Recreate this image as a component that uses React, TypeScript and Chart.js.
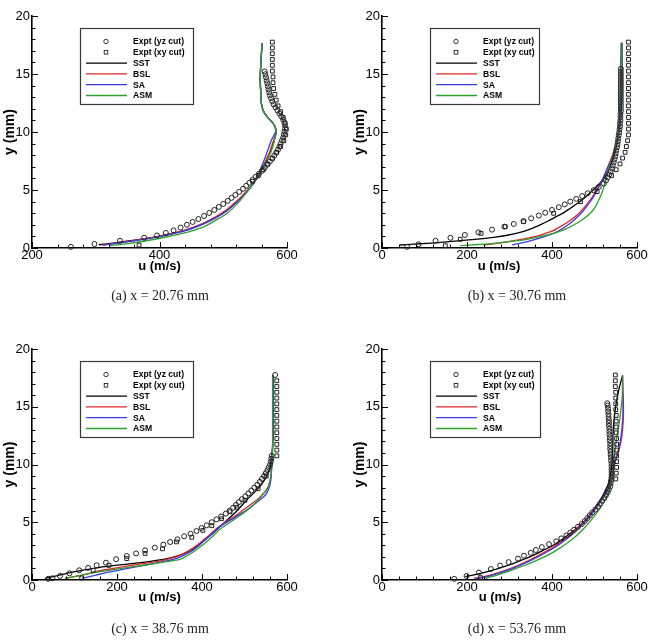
import { useEffect, useRef } from 'react';
import { Chart, registerables } from 'chart.js';

Chart.register(...registerables);

// Each point is [u (m/s), y (mm)].
type Pt = [number, number];

// ---------- (a) x = 20.76 mm ----------
const yzCutA: Pt[] = [
  [261, 0.1], [298, 0.35], [338, 0.62], [376, 0.88], [396, 1.08], [410, 1.3], [422, 1.52], [433, 1.76],
  [443, 2.0], [452, 2.25], [461, 2.5], [470, 2.76], [478, 3.02], [486, 3.28], [493, 3.54], [500, 3.8],
  [507, 4.06], [513, 4.32], [519, 4.58], [525, 4.84], [531, 5.1], [536, 5.36], [541, 5.62], [546, 5.88],
  [551, 6.14], [556, 6.4], [561, 6.66], [565, 6.92], [569, 7.18], [573, 7.44], [577, 7.7], [580, 7.96],
  [583, 8.22], [586, 8.48], [588, 8.74], [590, 9.0], [592, 9.26], [594, 9.52], [595, 9.78], [596, 10.04],
  [597, 10.3], [597, 10.56], [596, 10.82], [594, 11.08], [591, 11.34], [588, 11.6], [585, 11.86], [582, 12.12],
  [579, 12.38], [577, 12.64], [575, 12.9], [573, 13.16], [572, 13.42], [571, 13.68], [570, 13.94], [569, 14.2],
  [568, 14.46], [567, 14.72], [566, 14.98], [565, 15.22],
];
const xyCutA: Pt[] = [
  [577, 17.75], [577, 17.25], [577, 16.75], [577, 16.25], [577, 15.75], [577, 15.25], [578, 14.75], [578, 14.25],
  [579, 13.75], [581, 13.25], [583, 12.75], [586, 12.25], [590, 11.75], [594, 11.25], [597, 10.75], [599, 10.25],
  [598, 9.75], [595, 9.25], [590, 8.75], [584, 8.25], [577, 7.75], [570, 7.25], [563, 6.75], [555, 6.25],
  [546, 5.75], [368, 0.25],
];
const sstA: Pt[] = [
  [305, 0.28], [330, 0.45], [355, 0.63], [380, 0.83], [400, 1.03], [420, 1.25], [441, 1.55], [457, 1.85],
  [472, 2.2], [488, 2.65], [504, 3.2], [516, 3.75], [527, 4.3], [538, 4.95], [548, 5.6], [556, 6.3],
  [563, 7.0], [569, 7.7], [574, 8.3], [580, 9.3], [583, 10.0], [581, 10.5], [576, 10.9], [569, 11.3],
  [563, 11.8], [560, 12.4], [559, 13.2], [558, 14.5], [559, 16.0], [561, 17.65],
];
const bslA: Pt[] = [
  [310, 0.25], [333, 0.42], [357, 0.62], [380, 0.82], [400, 1.02], [420, 1.25], [440, 1.55], [456, 1.85],
  [471, 2.2], [487, 2.65], [503, 3.2], [515, 3.75], [526, 4.3], [537, 4.95], [547, 5.6], [555, 6.3],
  [562, 7.0], [568, 7.7], [573, 8.3], [579, 9.3], [583, 10.0], [581, 10.5], [576, 10.9], [569, 11.3],
  [563, 11.8], [560, 12.4], [559, 13.2], [558, 14.5], [559, 16.0], [561, 17.65],
];
const saA: Pt[] = [
  [312, 0.25], [335, 0.42], [358, 0.6], [382, 0.8], [402, 1.0], [422, 1.23], [442, 1.52], [458, 1.82],
  [473, 2.17], [489, 2.62], [505, 3.17], [517, 3.72], [528, 4.28], [539, 4.95], [548, 5.65], [555, 6.4],
  [561, 7.15], [566, 7.85], [570, 8.45], [576, 9.35], [582, 10.0], [581, 10.5], [576, 10.9], [569, 11.3],
  [563, 11.8], [560, 12.4], [559, 13.2], [558, 14.5], [559, 16.0], [561, 17.65],
];
const asmA: Pt[] = [
  [322, 0.2], [350, 0.38], [386, 0.69], [412, 0.97], [436, 1.26], [455, 1.55], [470, 1.84], [490, 2.45],
  [506, 3.0], [522, 3.8], [534, 4.6], [545, 5.4], [554, 6.15], [562, 6.9], [569, 7.6], [575, 8.3],
  [579, 9.0], [583, 10.0], [581, 10.5], [576, 10.9], [569, 11.3], [563, 11.8], [560, 12.4], [559, 13.2],
  [558, 14.5], [559, 16.0], [561, 17.65],
];

// ---------- (b) x = 30.76 mm ----------
const yzCutB: Pt[] = [
  [59, 0.1], [86, 0.32], [126, 0.62], [161, 0.88], [195, 1.12], [227, 1.35], [259, 1.58], [288, 1.84],
  [310, 2.07], [333, 2.32], [351, 2.56], [369, 2.8], [384, 3.04], [400, 3.28], [416, 3.52], [430, 3.76],
  [443, 4.0], [457, 4.24], [471, 4.48], [484, 4.72], [498, 4.98], [510, 5.26], [522, 5.56], [527, 5.82],
  [531, 6.08], [535, 6.34], [538, 6.6], [541, 6.86], [543, 7.12], [545, 7.38], [547, 7.64], [549, 7.9],
  [550, 8.16], [551, 8.42], [553, 8.68], [554, 8.94], [555, 9.2], [556, 9.46], [557, 9.72], [558, 9.98],
  [559, 10.24], [560, 10.5], [560, 10.76], [561, 11.02], [561, 11.28], [561, 11.54], [562, 11.8], [562, 12.06],
  [562, 12.32], [562, 12.58], [562, 12.84], [562, 13.1], [562, 13.36], [562, 13.62], [562, 13.88], [562, 14.14],
  [562, 14.4], [562, 14.66], [562, 14.92], [562, 15.18], [562, 15.44],
];
const xyCutB: Pt[] = [
  [580, 17.75], [580, 17.25], [580, 16.75], [580, 16.25], [580, 15.75], [580, 15.25], [580, 14.75], [580, 14.25],
  [580, 13.75], [580, 13.25], [580, 12.75], [580, 12.25], [580, 11.75], [580, 11.25], [580, 10.75], [580, 10.25],
  [580, 9.75], [578, 9.25], [575, 8.75], [572, 8.25], [566, 7.75], [560, 7.25], [551, 6.75], [540, 6.25],
  [506, 4.86], [467, 4.0], [404, 2.99], [333, 2.27], [290, 1.84], [233, 1.26], [184, 0.75], [149, 0.2],
];
const sstB: Pt[] = [
  [42, 0.26], [75, 0.33], [106, 0.4], [145, 0.5], [184, 0.63], [225, 0.77], [263, 0.92], [295, 1.1],
  [325, 1.35], [350, 1.65], [372, 2.0], [392, 2.35], [410, 2.7], [428, 3.05], [444, 3.45], [460, 3.85],
  [474, 4.25], [488, 4.7], [501, 5.15], [513, 5.6], [524, 6.1], [533, 6.7], [541, 7.4], [547, 8.1],
  [552, 8.9], [556, 9.8], [559, 11.0], [561, 13.0], [562, 15.0], [563, 17.7],
];
const bslB: Pt[] = [
  [239, 0.26], [275, 0.42], [310, 0.63], [345, 0.88], [373, 1.12], [400, 1.45], [420, 1.84], [440, 2.3],
  [459, 2.84], [476, 3.5], [490, 4.14], [501, 4.75], [510, 5.29], [518, 5.85], [525, 6.44], [533, 7.15],
  [541, 7.87], [548, 8.6], [553, 9.31], [559, 10.46], [562, 11.5], [564, 13.0], [565, 15.0], [565, 17.7],
];
const saB: Pt[] = [
  [306, 0.26], [330, 0.45], [357, 0.69], [380, 0.95], [404, 1.26], [425, 1.68], [443, 2.13], [460, 2.7],
  [475, 3.28], [487, 3.85], [498, 4.43], [507, 5.0], [514, 5.57], [522, 6.15], [529, 6.72], [537, 7.37],
  [545, 8.02], [550, 8.65], [555, 9.31], [559, 10.46], [562, 11.5], [564, 13.0], [565, 15.0], [565, 17.7],
];
const asmB: Pt[] = [
  [184, 0.2], [225, 0.3], [263, 0.4], [300, 0.55], [341, 0.75], [375, 1.0], [404, 1.26], [430, 1.6],
  [451, 1.98], [472, 2.45], [490, 2.99], [502, 3.55], [510, 4.14], [517, 4.7], [522, 5.29], [527, 5.95],
  [533, 6.72], [539, 7.45], [545, 8.16], [551, 8.9], [555, 9.6], [558, 10.8], [561, 12.76], [563, 15.0],
  [565, 17.64],
];

// ---------- (c) x = 38.76 mm ----------
const yzCutC: Pt[] = [
  [38, 0.1], [48, 0.15], [66, 0.35], [88, 0.58], [111, 0.84], [132, 1.05], [152, 1.27], [174, 1.5],
  [198, 1.8], [223, 2.08], [245, 2.3], [266, 2.57], [289, 2.8], [309, 3.06], [325, 3.29], [342, 3.52],
  [358, 3.78], [373, 4.0], [387, 4.24], [399, 4.5], [411, 4.73], [423, 5.0], [434, 5.25], [445, 5.5],
  [456, 5.75], [465, 6.0], [473, 6.25], [480, 6.5], [487, 6.75], [494, 7.0], [502, 7.25], [509, 7.5],
  [516, 7.75], [523, 8.0], [530, 8.25], [536, 8.5], [541, 8.75], [546, 9.0], [550, 9.25], [554, 9.5],
  [557, 9.75], [560, 10.0], [562, 10.25], [563, 10.5], [564, 10.75], [572, 17.75],
];
const xyCutC: Pt[] = [
  [576, 17.25], [576, 16.75], [576, 16.25], [576, 15.75], [576, 15.25], [576, 14.75], [576, 14.25], [576, 13.75],
  [576, 13.25], [576, 12.75], [576, 12.25], [576, 11.75], [576, 11.25], [576, 10.75], [551, 9.0], [532, 7.9],
  [501, 6.9], [482, 6.3], [466, 5.9], [446, 5.3], [423, 4.7], [402, 4.3], [376, 3.7], [340, 3.3],
  [307, 2.7], [266, 2.3], [223, 1.85], [181, 1.27], [144, 0.84], [117, 0.17],
];
const sstC: Pt[] = [
  [31, 0.14], [82, 0.58], [120, 0.85], [160, 1.1], [200, 1.28], [238, 1.44], [275, 1.6], [309, 1.79],
  [330, 1.95], [348, 2.16], [365, 2.42], [380, 2.74], [396, 3.15], [411, 3.6], [427, 4.1], [442, 4.6],
  [458, 5.15], [474, 5.69], [490, 6.3], [505, 6.93], [521, 7.5], [536, 8.08], [546, 8.6], [552, 8.95],
  [557, 9.4], [560, 9.81], [564, 10.68], [566, 11.5], [568, 13.0], [568, 15.0], [568, 17.7],
];
const bslC: Pt[] = [
  [78, 0.14], [120, 0.45], [160, 0.8], [200, 1.05], [238, 1.3], [270, 1.47], [301, 1.64], [322, 1.82],
  [340, 2.02], [356, 2.28], [372, 2.6], [388, 3.0], [403, 3.46], [419, 3.95], [435, 4.47], [450, 4.88],
  [466, 5.25], [482, 5.65], [497, 6.06], [513, 6.5], [529, 6.93], [541, 7.35], [552, 7.79], [558, 8.3],
  [562, 8.95], [564, 10.1], [566, 11.5], [567, 13.0], [567, 15.0], [567, 17.7],
];
const saC: Pt[] = [
  [117, 0.14], [140, 0.33], [160, 0.52], [200, 0.82], [238, 1.1], [270, 1.32], [301, 1.53], [322, 1.7],
  [340, 1.88], [358, 2.15], [376, 2.51], [392, 2.97], [407, 3.46], [423, 4.0], [438, 4.53], [456, 4.95],
  [474, 5.34], [490, 5.7], [505, 6.06], [521, 6.5], [536, 6.93], [545, 7.2], [552, 7.5], [558, 8.0],
  [562, 8.66], [564, 10.1], [566, 11.5], [567, 13.0], [567, 15.0], [567, 17.7],
];
const asmC: Pt[] = [
  [78, 0.14], [120, 0.45], [160, 0.72], [200, 0.95], [238, 1.15], [278, 1.36], [317, 1.59], [333, 1.68],
  [348, 1.79], [364, 2.07], [380, 2.45], [396, 2.87], [411, 3.32], [427, 3.85], [442, 4.39], [458, 4.8],
  [474, 5.19], [490, 5.6], [505, 6.0], [521, 6.5], [536, 7.07], [547, 7.6], [556, 8.08], [561, 8.8],
  [564, 9.52], [566, 11.0], [566, 13.0], [566, 15.0], [566, 17.7],
];

// ---------- (d) x = 53.76 mm ----------
const yzCutD: Pt[] = [
  [170, 0.1], [199, 0.35], [228, 0.65], [256, 0.95], [278, 1.25], [298, 1.55], [320, 1.85], [334, 2.1],
  [350, 2.35], [362, 2.6], [376, 2.85], [393, 3.1], [410, 3.35], [422, 3.6], [434, 3.85], [443, 4.1],
  [452, 4.35], [461, 4.6], [470, 4.85], [477, 5.1], [483, 5.35], [489, 5.6], [495, 5.85], [502, 6.1],
  [508, 6.35], [513, 6.6], [518, 6.85], [523, 7.1], [527, 7.35], [531, 7.6], [534, 7.85], [537, 8.1],
  [538, 8.35], [539, 8.6], [540, 8.85], [540, 9.1], [540, 9.35], [540, 9.6], [540, 9.85], [540, 10.1],
  [539, 10.35], [539, 10.6], [538, 10.85], [538, 11.1], [537, 11.35], [537, 11.6], [537, 11.85], [536, 12.1],
  [536, 12.35], [535, 12.6], [535, 12.85], [535, 13.1], [534, 13.35], [534, 13.6], [534, 13.85], [533, 14.1],
  [533, 14.35], [532, 14.6], [532, 14.85], [531, 15.1], [530, 15.3],
];
const xyCutD: Pt[] = [
  [549, 17.75], [549, 17.25], [549, 16.75], [550, 16.25], [550, 15.75], [550, 15.25], [550, 14.75], [551, 14.25],
  [551, 13.75], [551, 13.25], [551, 12.75], [552, 12.25], [552, 11.75], [552, 11.25], [552, 10.75], [552, 10.25],
  [552, 9.75], [551, 9.25], [550, 8.75], [232, 0.2],
];
const sstD: Pt[] = [
  [196, 0.29], [230, 0.55], [263, 0.87], [287, 1.15], [310, 1.44], [334, 1.8], [357, 2.16], [380, 2.58],
  [404, 3.03], [424, 3.52], [443, 4.04], [460, 4.55], [475, 5.05], [487, 5.55], [498, 6.06], [508, 6.6],
  [518, 7.2], [526, 7.8], [533, 8.37], [538, 9.2], [541, 10.1], [543, 11.5], [544, 13.0], [548, 14.5],
  [552, 15.5], [558, 16.6], [566, 17.7],
];
const bslD: Pt[] = [
  [216, 0.14], [240, 0.3], [270, 0.6], [298, 0.95], [322, 1.3], [346, 1.7], [370, 2.15], [394, 2.65],
  [416, 3.15], [436, 3.7], [453, 4.25], [469, 4.8], [483, 5.35], [496, 5.95], [508, 6.55], [519, 7.15],
  [529, 7.75], [536, 8.35], [541, 9.1], [546, 9.9], [552, 10.6], [558, 11.3], [563, 12.1], [566, 13.0],
  [568, 14.2], [568, 15.4], [567, 16.5], [566, 17.7],
];
const saD: Pt[] = [
  [220, 0.1], [243, 0.25], [272, 0.55], [300, 0.9], [324, 1.25], [348, 1.65], [372, 2.1], [396, 2.6],
  [418, 3.1], [438, 3.65], [455, 4.2], [470, 4.75], [484, 5.3], [497, 5.9], [509, 6.5], [520, 7.1],
  [530, 7.7], [537, 8.3], [542, 9.05], [546, 9.85], [551, 10.6], [557, 11.4], [562, 12.3], [565, 13.3],
  [567, 14.4], [567, 15.5], [566, 16.6], [566, 17.7],
];
const asmD: Pt[] = [
  [240, 0.12], [258, 0.3], [285, 0.6], [312, 0.95], [338, 1.3], [364, 1.7], [390, 2.15], [414, 2.65],
  [436, 3.2], [455, 3.75], [472, 4.35], [487, 4.95], [500, 5.55], [512, 6.15], [523, 6.8], [532, 7.45],
  [537, 8.05], [540, 8.6], [542, 9.4], [545, 10.3], [548, 11.2], [551, 12.0], [555, 12.9], [559, 13.8],
  [562, 14.7], [565, 15.7], [566, 16.7], [566, 17.7],
];

// Axis tick labels
const uTicksA = [200, 400, 600];
const uTicksFromZero = [0, 200, 400, 600];
const yTicks = [0, 5, 10, 15, 20];
const U_MINOR_STEP = 40;
const Y_MINOR_STEP = 1;

const legendLabels = ['Expt (yz cut)', 'Expt (xy cut)', 'SST', 'BSL', 'SA', 'ASM'];
const xTitle = 'u (m/s)';
const yTitle = 'y (mm)';

const COLORS = { sst: '#000000', bsl: '#e02828', sa: '#3a3ae6', asm: '#2ca02c', marker: '#222222' };
const SANS = '"Liberation Sans", Arial, Helvetica, sans-serif';

interface PanelSpec {
  caption: string;
  yz: Pt[]; xy: Pt[]; sst: Pt[]; bsl: Pt[]; sa: Pt[]; asm: Pt[];
  uTicks: number[];
  left: number; top: number; width: number; height: number;
  area: { left: number; top: number; right: number; bottom: number };
  xTitleAt: [number, number];
  yTitleAt: [number, number];
  legendWidth: number;
  captionAt: [number, number];
}

const panels: PanelSpec[] = [
  {
    caption: '(a) x = 20.76 mm', yz: yzCutA, xy: xyCutA, sst: sstA, bsl: bslA, sa: saA, asm: asmA,
    uTicks: uTicksA, left: 0, top: 0, width: 327, height: 310,
    area: { left: 32, top: 16, right: 287, bottom: 248 },
    xTitleAt: [159.5, 266], yTitleAt: [10, 132], legendWidth: 113, captionAt: [160, 296],
  },
  {
    caption: '(b) x = 30.76 mm', yz: yzCutB, xy: xyCutB, sst: sstB, bsl: bslB, sa: saB, asm: asmB,
    uTicks: uTicksFromZero, left: 327, top: 0, width: 327, height: 310,
    area: { left: 55, top: 16, right: 310, bottom: 248 },
    xTitleAt: [172, 266.5], yTitleAt: [33, 132], legendWidth: 109, captionAt: [517, 296],
  },
  {
    caption: '(c) x = 38.76 mm', yz: yzCutC, xy: xyCutC, sst: sstC, bsl: bslC, sa: saC, asm: asmC,
    uTicks: uTicksFromZero, left: 0, top: 330, width: 327, height: 313,
    area: { left: 32, top: 19, right: 287, bottom: 250 },
    xTitleAt: [159.5, 267.5], yTitleAt: [10.5, 134.5], legendWidth: 113, captionAt: [160, 629],
  },
  {
    caption: '(d) x = 53.76 mm', yz: yzCutD, xy: xyCutD, sst: sstD, bsl: bslD, sa: saD, asm: asmD,
    uTicks: uTicksFromZero, left: 327, top: 330, width: 327, height: 313,
    area: { left: 55, top: 19, right: 310, bottom: 250 },
    xTitleAt: [173, 267.5], yTitleAt: [33, 134.5], legendWidth: 110, captionAt: [517, 629],
  },
];

function lineSeries(label: string, pts: Pt[], color: string, order: number) {
  return {
    label,
    data: pts.map(([u, y]) => ({ x: u, y })),
    showLine: true,
    borderColor: color,
    backgroundColor: color,
    borderWidth: 1.3,
    pointRadius: 0,
    pointHoverRadius: 0,
    tension: 0.2,
    fill: false,
    clip: false,
    order,
  };
}

function markerSeries(label: string, pts: Pt[], style: 'circle' | 'rect', radius: number) {
  return {
    label,
    data: pts.map(([u, y]) => ({ x: u, y })),
    showLine: false,
    pointStyle: style,
    pointRadius: radius,
    pointHoverRadius: radius,
    pointBorderWidth: 1,
    borderColor: COLORS.marker,
    pointBorderColor: COLORS.marker,
    backgroundColor: 'rgba(0,0,0,0)',
    pointBackgroundColor: 'rgba(0,0,0,0)',
    clip: false,
    order: 0,
  };
}

// Inward tick marks, boxed legend and bold axis titles.
function makeDecorations(p: PanelSpec) {
  return {
    id: 'panelDecorations',
    afterDraw(chart: any) {
      const { ctx, chartArea: a } = chart;
      const xs = chart.scales.x;
      const ys = chart.scales.y;
      ctx.save();
      ctx.strokeStyle = '#000';
      ctx.lineWidth = 1;
      ctx.beginPath();
      for (let v = xs.min; v <= xs.max + 1e-6; v += U_MINOR_STEP) {
        const px = Math.round(xs.getPixelForValue(v)) + 0.5;
        const len = p.uTicks.includes(Math.round(v)) ? 6 : 3.5;
        ctx.moveTo(px, a.bottom);
        ctx.lineTo(px, a.bottom - len);
      }
      for (let v = ys.min; v <= ys.max + 1e-6; v += Y_MINOR_STEP) {
        const py = Math.round(ys.getPixelForValue(v)) + 0.5;
        const len = yTicks.includes(Math.round(v)) ? 6 : 3.5;
        ctx.moveTo(a.left, py);
        ctx.lineTo(a.left + len, py);
      }
      ctx.stroke();

      // legend box
      const bx = a.left + 48;
      const by = a.top + 12;
      const bw = p.legendWidth;
      const bh = 76;
      ctx.fillStyle = '#fff';
      ctx.fillRect(bx, by, bw, bh);
      ctx.strokeStyle = '#3a3a3a';
      ctx.lineWidth = 1.2;
      ctx.strokeRect(bx + 0.5, by + 0.5, bw, bh);
      const rowY = [13.5, 24.3, 35.1, 45.9, 56.7, 67.5];
      const lineColors = [COLORS.sst, COLORS.bsl, COLORS.sa, COLORS.asm];
      ctx.font = `bold 8.6px ${SANS}`;
      ctx.textBaseline = 'middle';
      ctx.textAlign = 'left';
      legendLabels.forEach((label, i) => {
        const ry = by + rowY[i];
        if (i === 0) {
          ctx.strokeStyle = COLORS.marker;
          ctx.lineWidth = 0.9;
          ctx.beginPath();
          ctx.arc(bx + 26, ry, 2.2, 0, Math.PI * 2);
          ctx.stroke();
        } else if (i === 1) {
          ctx.strokeStyle = COLORS.marker;
          ctx.lineWidth = 0.9;
          ctx.strokeRect(bx + 24.2, ry - 1.8, 3.6, 3.6);
        } else {
          ctx.strokeStyle = lineColors[i - 2];
          ctx.lineWidth = 1.3;
          ctx.beginPath();
          ctx.moveTo(bx + 6, ry);
          ctx.lineTo(bx + 47, ry);
          ctx.stroke();
        }
        ctx.fillStyle = '#000';
        ctx.fillText(label, bx + 53, ry + 0.5);
      });

      // axis titles
      ctx.fillStyle = '#000';
      ctx.textAlign = 'center';
      ctx.textBaseline = 'middle';
      ctx.font = `bold 13px ${SANS}`;
      ctx.fillText(xTitle, p.xTitleAt[0], p.xTitleAt[1]);
      ctx.font = `bold 14px ${SANS}`;
      ctx.translate(p.yTitleAt[0], p.yTitleAt[1]);
      ctx.rotate(-Math.PI / 2);
      ctx.fillText(yTitle, 0, 0);
      ctx.restore();
    },
  };
}

function buildConfig(p: PanelSpec): any {
  const tickFont = { family: SANS, size: 13 };
  return {
    type: 'scatter',
    data: {
      datasets: [
        markerSeries(legendLabels[0], p.yz, 'circle', 2.5),
        markerSeries(legendLabels[1], p.xy, 'rect', 2.7),
        lineSeries(legendLabels[2], p.sst, COLORS.sst, 4),
        lineSeries(legendLabels[3], p.bsl, COLORS.bsl, 3),
        lineSeries(legendLabels[4], p.sa, COLORS.sa, 2),
        lineSeries(legendLabels[5], p.asm, COLORS.asm, 1),
      ],
    },
    options: {
      responsive: false,
      maintainAspectRatio: false,
      animation: false,
      events: [],
      layout: { padding: { left: 0, top: p.area.top, right: p.width - p.area.right, bottom: 0 } },
      plugins: { legend: { display: false }, tooltip: { enabled: false } },
      scales: {
        x: {
          type: 'linear',
          min: p.uTicks[0],
          max: p.uTicks[p.uTicks.length - 1],
          afterBuildTicks: (s: any) => { s.ticks = p.uTicks.map((v) => ({ value: v })); },
          afterFit: (s: any) => { s.height = p.height - p.area.bottom; },
          ticks: { font: tickFont, color: '#000', padding: 0, maxRotation: 0, autoSkip: false },
          grid: { display: false, drawTicks: false },
          border: { display: true, color: '#000', width: 1.6 },
        },
        y: {
          type: 'linear',
          min: yTicks[0],
          max: yTicks[yTicks.length - 1],
          afterBuildTicks: (s: any) => { s.ticks = yTicks.map((v) => ({ value: v })); },
          afterFit: (s: any) => { s.width = p.area.left; },
          ticks: { font: tickFont, color: '#000', padding: 2, autoSkip: false },
          grid: { display: false, drawTicks: false },
          border: { display: true, color: '#000', width: 1.6 },
        },
      },
    },
    plugins: [makeDecorations(p)],
  };
}

function Panel({ spec }: { spec: PanelSpec }) {
  const ref = useRef<HTMLCanvasElement>(null);
  useEffect(() => {
    if (!ref.current) return;
    const chart = new Chart(ref.current, buildConfig(spec));
    return () => chart.destroy();
  }, [spec]);
  return (
    <>
      <canvas
        ref={ref}
        width={spec.width}
        height={spec.height}
        style={{ position: 'absolute', left: spec.left, top: spec.top, width: spec.width, height: spec.height }}
      />
      <div
        style={{
          position: 'absolute',
          left: spec.captionAt[0] - 120,
          top: spec.captionAt[1] - 9,
          width: 240,
          height: 18,
          lineHeight: '18px',
          textAlign: 'center',
          fontFamily: '"Liberation Serif", "Times New Roman", serif',
          fontSize: '14px',
          color: '#222',
          whiteSpace: 'pre',
        }}
      >
        {spec.caption}
      </div>
    </>
  );
}

export default function App() {
  return (
    <div style={{ position: 'absolute', left: 0, top: 0, width: 654, height: 643, background: '#fff' }}>
      {panels.map((p) => (
        <Panel key={p.caption} spec={p} />
      ))}
    </div>
  );
}
